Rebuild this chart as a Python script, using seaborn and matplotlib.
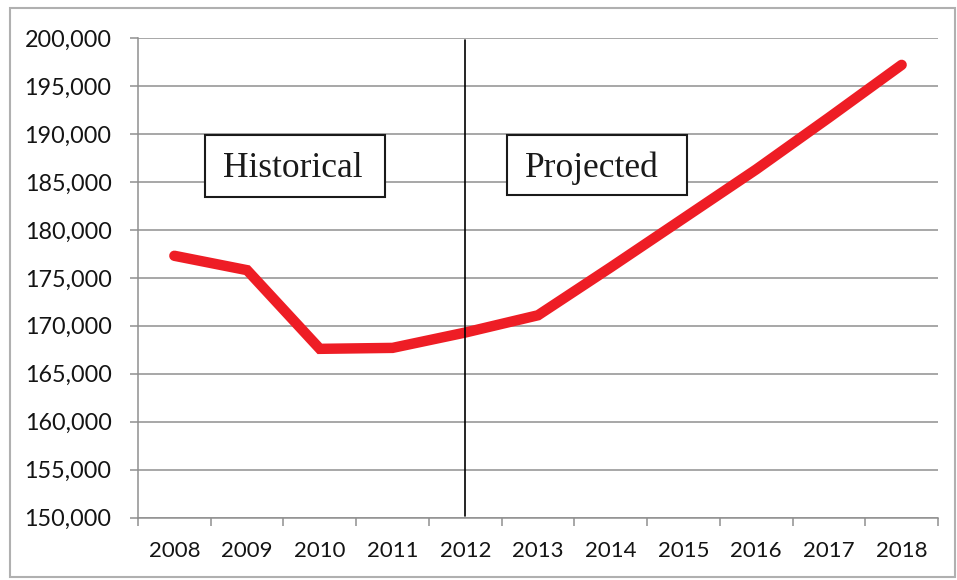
import matplotlib
matplotlib.use("Agg")
import matplotlib.pyplot as plt
from matplotlib.patches import Rectangle
from matplotlib.ticker import FuncFormatter, FixedLocator
import seaborn as sns
import numpy as np
import pandas as pd

years = ["2008", "2009", "2010", "2011", "2012", "2013",
         "2014", "2015", "2016", "2017", "2018"]
values = [177300, 175800, 167600, 167700, 169300, 171100,
          176100, 181200, 186300, 191700, 197200]
y_ticks = [150000, 155000, 160000, 165000, 170000, 175000,
           180000, 185000, 190000, 195000, 200000]
divider_year = "2012"
box_labels = ["Historical", "Projected"]

sns.set_theme(style="white")
plt.rcParams["font.family"] = ["Lato", "DejaVu Sans"]

df = pd.DataFrame({"pos": np.arange(len(years)), "value": values})

fig = plt.figure(figsize=(9.57, 5.80), dpi=100)
ax = fig.add_axes([138 / 957, 1 - 517.7 / 580, 800 / 957, 479.7 / 580])

grid_color = "#8f8f8f"
for v in y_ticks:
    ax.axhline(v, color=grid_color, lw=1.1, zorder=1)

sns.lineplot(data=df, x="pos", y="value", ax=ax, color="#EE1D25",
             lw=7.5, zorder=3, solid_capstyle="round",
             solid_joinstyle="miter")

ax.axvline(years.index(divider_year), ymin=0.004, ymax=0.996,
           color="black", lw=1.2, zorder=4)

ax.set_xlim(-0.5, len(years) - 0.5)
ax.set_ylim(y_ticks[0], y_ticks[-1])
ax.set_yticks(y_ticks)
ax.yaxis.set_major_formatter(FuncFormatter(lambda v, p: f"{int(v):,}"))
ax.set_xticks(np.arange(len(years)))
ax.set_xticklabels(years)
ax.xaxis.set_minor_locator(FixedLocator(np.arange(-0.5, len(years), 1.0)))
ax.set_xlabel("")
ax.set_ylabel("")

ax.tick_params(axis="x", which="major", length=0, pad=17,
               labelsize=16, labelcolor="#141414")
ax.tick_params(axis="x", which="minor", length=5.5, width=1.1,
               color=grid_color, direction="out", bottom=True)
ax.tick_params(axis="y", length=6, width=1.1, color=grid_color,
               direction="out", left=True, pad=13,
               labelsize=16.8, labelcolor="#141414")

for s in ["top", "right"]:
    ax.spines[s].set_visible(False)
for s in ["left", "bottom"]:
    ax.spines[s].set_color(grid_color)
    ax.spines[s].set_linewidth(1.1)

# annotation boxes (axes fraction)
boxes = [(0.084, 0.668, 0.225, 0.130, 0.194), (0.461, 0.672, 0.225, 0.126, 0.567)]
for (x0, y0, w, h, tx), label in zip(boxes, box_labels):
    ax.add_patch(Rectangle((x0, y0), w, h, transform=ax.transAxes,
                           facecolor="white", edgecolor="#1a1a1a",
                           lw=1.5, zorder=5))
    ax.text(tx, y0 + h / 2 - 0.006, label, transform=ax.transAxes, ha="center",
            va="center", fontsize=25.5, family=["Liberation Serif"],
            color="#1a1a1a", zorder=6)

fig.patches.append(Rectangle((10 / 957, 3 / 580), 945 / 957, 569 / 580,
                             transform=fig.transFigure, fill=False,
                             edgecolor="#b0b0b0", lw=1.5))

fig.savefig("out.png", dpi=100)
